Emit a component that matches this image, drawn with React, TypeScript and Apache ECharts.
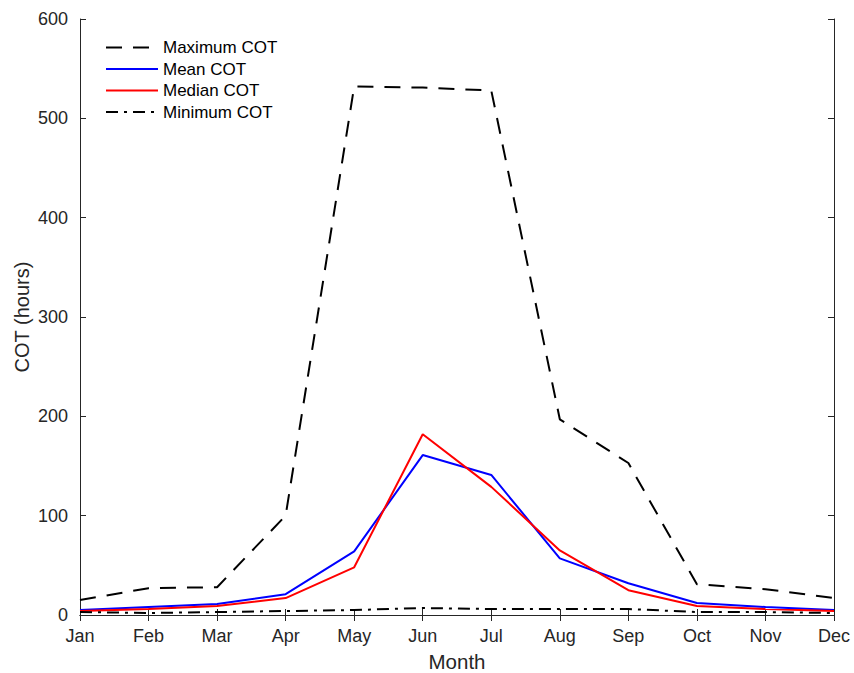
import React, { useEffect, useRef } from "react";
import * as echarts from "echarts";

const months = ["Jan", "Feb", "Mar", "Apr", "May", "Jun", "Jul", "Aug", "Sep", "Oct", "Nov", "Dec"];
const maxCOT = [15, 27, 28, 100, 532, 531, 528, 197, 153, 31, 26, 17];
const meanCOT = [5, 8, 11, 21, 64, 161, 141, 57, 32, 12, 8, 5];
const medianCOT = [4, 6, 9, 17, 48, 182, 129, 65, 25, 9, 6, 4];
const minCOT = [3, 2, 3, 4, 5, 7, 6, 6, 6, 3, 3, 2];
const yTicks = { min: 0, max: 600, interval: 100 };

const FONT = "'Liberation Sans', Arial, Helvetica, sans-serif";
const INK = "#262626";

export default function App() {
  const ref = useRef<HTMLDivElement>(null);

  useEffect(() => {
    document.body.style.margin = "0";
    if (!ref.current) return;
    const chart = echarts.init(ref.current, undefined, { renderer: "svg" });

    const axisLine = { show: true, lineStyle: { color: INK, width: 1 } };
    const tick = { show: true, inside: true, length: 6, lineStyle: { color: INK, width: 1 } };

    chart.setOption({
      animation: false,
      backgroundColor: "#ffffff",
      textStyle: { fontFamily: FONT },
      grid: {
        left: 80,
        right: 20,
        top: 19,
        bottom: 58,
        containLabel: false,
        outerBoundsMode: "none",
      },
      legend: {
        orient: "vertical",
        left: 100,
        top: 34,
        itemWidth: 52,
        itemHeight: 14,
        itemGap: 4.5,
        itemStyle: { opacity: 0, borderWidth: 0 },
        textStyle: { fontFamily: FONT, fontSize: 17, color: "#000", lineHeight: 17 },
        data: ["Maximum COT", "Mean COT", "Median COT", "Minimum COT"],
      },
      xAxis: [
        {
          type: "category",
          data: months,
          boundaryGap: false,
          position: "bottom",
          axisLine,
          axisTick: { ...tick, alignWithLabel: true },
          axisLabel: { color: INK, fontSize: 18, fontFamily: FONT, margin: 12 },
          splitLine: { show: false },
          name: "Month",
          nameLocation: "middle",
          nameGap: 36,
          nameMoveOverlap: false,
          nameTextStyle: { color: INK, fontSize: 20.5, fontFamily: FONT },
        },
        {
          type: "category",
          data: months,
          boundaryGap: false,
          position: "top",
          axisLine,
          axisTick: tick,
          axisLabel: { show: false },
          splitLine: { show: false },
        },
      ],
      yAxis: [
        {
          type: "value",
          min: yTicks.min,
          max: yTicks.max,
          interval: yTicks.interval,
          position: "left",
          axisLine,
          axisTick: tick,
          axisLabel: { color: INK, fontSize: 18, fontFamily: FONT, margin: 12 },
          splitLine: { show: false },
          name: "COT (hours)",
          nameLocation: "middle",
          nameGap: 48,
          nameMoveOverlap: false,
          nameTextStyle: { color: INK, fontSize: 20, fontFamily: FONT },
        },
        {
          type: "value",
          min: yTicks.min,
          max: yTicks.max,
          interval: yTicks.interval,
          position: "right",
          axisLine,
          axisTick: tick,
          axisLabel: { show: false },
          splitLine: { show: false },
        },
      ],
      series: [
        {
          name: "Maximum COT",
          type: "line",
          data: maxCOT,
          symbol: "none",
          color: "#000000",
          lineStyle: { color: "#000000", width: 2, type: [16, 11] },
        },
        {
          name: "Mean COT",
          type: "line",
          data: meanCOT,
          symbol: "none",
          color: "#0000ff",
          lineStyle: { color: "#0000ff", width: 2 },
        },
        {
          name: "Median COT",
          type: "line",
          data: medianCOT,
          symbol: "none",
          color: "#ff0000",
          lineStyle: { color: "#ff0000", width: 2 },
        },
        {
          name: "Minimum COT",
          type: "line",
          data: minCOT,
          symbol: "none",
          color: "#000000",
          lineStyle: { color: "#000000", width: 2, type: [12, 6, 3, 6] },
        },
      ],
    });

    return () => chart.dispose();
  }, []);

  return <div ref={ref} style={{ width: 854, height: 673 }} />;
}
